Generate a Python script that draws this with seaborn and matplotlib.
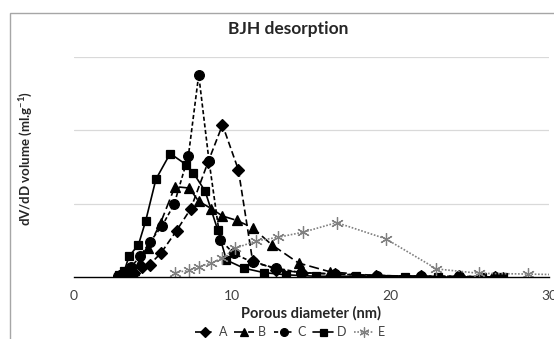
import matplotlib
matplotlib.use('Agg')
import matplotlib.pyplot as plt
import seaborn as sns
from matplotlib.patches import Rectangle

# pore size distributions
A_x = [2.9, 3.3, 3.8, 4.3, 4.8, 5.5, 6.5, 7.4, 8.5, 9.4, 10.4, 11.3, 12.8, 14.4, 16.5, 19.1, 21.9, 24.3, 26.6]
A_y = [0.01, 0.03, 0.06, 0.14, 0.17, 0.32, 0.63, 0.93, 1.57, 2.07, 1.46, 0.22, 0.10, 0.06, 0.04, 0.02, 0.01, 0.01, 0.0]

B_x = [2.9, 3.3, 3.8, 4.2, 4.7, 5.5, 6.4, 7.3, 7.9, 8.7, 9.4, 10.3, 11.3, 12.5, 14.2, 16.2, 19.0, 21.9, 24.4, 27.1]
B_y = [0.01, 0.04, 0.10, 0.20, 0.39, 0.74, 1.23, 1.21, 1.03, 0.93, 0.83, 0.77, 0.67, 0.44, 0.19, 0.07, 0.02, 0.01, 0.0, 0.0]

C_x = [2.8, 3.2, 3.65, 4.2, 4.8, 5.6, 6.35, 7.25, 7.9, 8.55, 9.25, 10.1, 11.3, 12.8, 14.35, 16.5, 19.15, 21.9, 24.3, 26.6]
C_y = [0.01, 0.06, 0.14, 0.28, 0.47, 0.70, 0.99, 1.65, 2.75, 1.58, 0.51, 0.32, 0.20, 0.12, 0.06, 0.04, 0.02, 0.01, 0.01, 0.0]

D_x = [2.9, 3.2, 3.5, 4.1, 4.55, 5.2, 6.1, 7.1, 7.55, 8.3, 9.1, 9.65, 10.75, 12.0, 13.4, 15.3, 17.8, 20.9, 23.0, 25.8, 27.1]
D_y = [0.03, 0.08, 0.28, 0.44, 0.76, 1.33, 1.68, 1.53, 1.42, 1.17, 0.64, 0.23, 0.12, 0.06, 0.03, 0.01, 0.01, 0.0, 0.0, 0.0, 0.0]

E_x = [6.4, 7.3, 7.9, 8.7, 9.4, 10.2, 11.5, 12.9, 14.5, 16.6, 19.7, 22.9, 25.6, 28.7, 31.0]
E_y = [0.06, 0.09, 0.14, 0.19, 0.26, 0.39, 0.49, 0.54, 0.61, 0.74, 0.52, 0.11, 0.05, 0.04, 0.03]

x_ticks = [0, 10, 20, 30]

sns.set_style('white')
plt.rcParams['font.family'] = ['Lato', 'DejaVu Sans']
plt.rcParams['mathtext.fontset'] = 'custom'
plt.rcParams['mathtext.rm'] = 'Lato'
plt.rcParams['mathtext.bf'] = 'Lato:bold'

fig = plt.figure(figsize=(5.54, 3.39), dpi=100)
ax = fig.add_axes([73.5 / 554, 1 - 277 / 339, (549 - 73.5) / 554, (277 - 56.5) / 339])

# chart frame (cropped at right and bottom in the reference)
fig.patches.append(Rectangle((10 / 554, -0.1), 1.2, 1 - 13 / 339 + 0.1, transform=fig.transFigure,
                             fill=False, edgecolor='#a6a6a6', linewidth=1.0))

for yv in [1, 2, 3]:
    ax.axhline(yv, color='#d9d9d9', linewidth=0.9, zorder=0)

series = [
    ('A', A_x, A_y, 'D', (0, (4, 2)), 'black', 6.0),
    ('B', B_x, B_y, '^', (0, (6, 2.5)), 'black', 7.0),
    ('C', C_x, C_y, 'o', (0, (2.5, 1.5)), 'black', 7.0),
    ('D', D_x, D_y, 's', '-', 'black', 6.3),
    ('E', E_x, E_y, (6, 2, 0), (0, (1, 1)), '#808080', 9.0),
]

for name, xs, ys, mk, ls, col, ms in series:
    sns.lineplot(x=xs, y=ys, ax=ax, estimator=None, sort=False, label=name,
                 marker=mk, linestyle=ls, color=col, markersize=ms,
                 markeredgecolor=col, markerfacecolor=col, markeredgewidth=0.9,
                 linewidth=1.2)

ax.set_xlim(0, 30)
ax.set_ylim(0, 3)
ax.set_xticks(x_ticks)
ax.set_xticklabels([str(t) for t in x_ticks], fontsize=10, color='#404040')
ax.set_yticks([])
for s in ['top', 'right', 'left']:
    ax.spines[s].set_visible(False)
ax.spines['bottom'].set_color('black')
ax.spines['bottom'].set_linewidth(1.0)
ax.tick_params(axis='x', direction='out', length=4, width=0.8, color='black', pad=5)

ax.set_xlabel('Porous diameter (nm)', fontsize=10.5, fontweight='bold', color='#262626', labelpad=3)
fig.text(26 / 554, 1 - 158 / 339, 'dV/dD volume (ml.g$^{\\mathbf{-1}}$)', rotation=90, ha='center', va='center',
         fontsize=9.5, fontweight='bold', color='#262626')
fig.text(288 / 554, 1 - 29 / 339, 'BJH desorption', ha='center', va='center',
         fontsize=12.5, fontweight='bold', color='#262626')

leg = ax.legend(loc='center', bbox_to_anchor=(0.455, (277 - 332) / (277 - 56.5)), ncol=5, frameon=False,
                fontsize=9, handlelength=1.6, handletextpad=0.3, columnspacing=0.6, markerscale=0.8)
for t in leg.get_texts():
    t.set_color('#404040')

fig.savefig('out.png', dpi=100, facecolor='white')
